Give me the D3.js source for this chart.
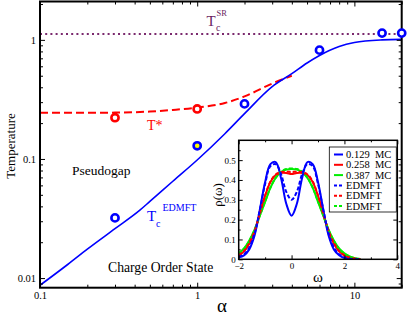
<!DOCTYPE html>
<html>
<head>
<meta charset="utf-8">
<script src="https://cdn.jsdelivr.net/npm/d3@7"></script>
<style>
body { margin: 0; background: #fff; }
</style>
</head>
<body>
<div id="chart"></div>
<script>
var width = 409;
var height = 315;

// main panel data
var tcAlpha = [0.1, 0.15, 0.2, 0.3, 0.43, 0.5, 0.7, 1, 1.5, 2, 3, 4, 5, 6, 8, 10, 15, 20];
var tcValue = [0.0087, 0.013, 0.0175, 0.026, 0.037, 0.044, 0.065, 0.098, 0.163, 0.24, 0.405, 0.52, 0.64, 0.74, 0.88, 0.95, 1.0, 1.01];
var tstarAlpha = [0.1, 0.3, 0.5, 0.7, 1, 1.5, 2, 3, 4];
var tstarValue = [0.244, 0.245, 0.25, 0.258, 0.27, 0.295, 0.335, 0.43, 0.5];
var tcSR = 1.12;
var redPtsAlpha = [0.3, 1];
var redPtsValue = [0.222, 0.263];
var bluePtsAlpha = [0.3, 1, 2, 6, 15, 20];
var bluePtsValue = [0.032, 0.129, 0.29, 0.82, 1.14, 1.14];
var xTickLabels = ["0.1", "1", "10"];
var yTickLabels = ["0.01", "0.1", "1"];

// inset data
var omega = [-2, -1.8, -1.6, -1.4, -1.2, -1, -0.8, -0.6, -0.4, -0.2, 0, 0.2, 0.4, 0.6, 0.8, 1, 1.2, 1.4, 1.6, 1.8, 2, 2.2, 2.4, 2.6];
var mc129 = [0.01, 0.02, 0.05, 0.12, 0.25, 0.39, 0.48, 0.49, 0.41, 0.28, 0.22, 0.28, 0.41, 0.49, 0.48, 0.39, 0.25, 0.12, 0.05, 0.02, 0.006, 0.002, 0, 0];
var ed129 = [0.012, 0.025, 0.06, 0.13, 0.25, 0.38, 0.47, 0.48, 0.43, 0.34, 0.3, 0.34, 0.43, 0.48, 0.47, 0.38, 0.25, 0.13, 0.06, 0.025, 0.01, 0.003, 0, 0];
var mc258 = [0.02, 0.04, 0.08, 0.14, 0.23, 0.32, 0.39, 0.425, 0.435, 0.435, 0.43, 0.435, 0.435, 0.425, 0.39, 0.32, 0.23, 0.14, 0.08, 0.04, 0.02, 0.008, 0.003, 0];
var ed258 = [0.02, 0.042, 0.082, 0.142, 0.232, 0.322, 0.392, 0.428, 0.44, 0.442, 0.44, 0.442, 0.44, 0.428, 0.392, 0.322, 0.232, 0.142, 0.082, 0.042, 0.02, 0.008, 0.003, 0];
var mc387 = [0.03, 0.055, 0.095, 0.15, 0.22, 0.29, 0.36, 0.41, 0.44, 0.452, 0.455, 0.452, 0.44, 0.41, 0.36, 0.29, 0.22, 0.15, 0.095, 0.055, 0.03, 0.015, 0.006, 0.002];
var ed387 = [0.028, 0.052, 0.092, 0.148, 0.22, 0.292, 0.362, 0.412, 0.442, 0.455, 0.458, 0.455, 0.442, 0.412, 0.362, 0.292, 0.22, 0.148, 0.092, 0.052, 0.028, 0.014, 0.005, 0.002];
var legendLabels = ["0.129  MC", "0.258  MC", "0.387  MC", "EDMFT", "EDMFT", "EDMFT"];
var insetXTicks = [-2, 0, 2, 4];
var insetYTicks = [0, 0.1, 0.2, 0.3, 0.4, 0.5];

var svg = d3.select("#chart")
            .append("svg")
            .attr("width", width)
            .attr("height", height);

var x = d3.scaleLog().domain([0.1, 20]).range([40, 401.7]);
var y = d3.scaleLog().domain([0.0083, 2.1]).range([287.7, 1.5]);

function minorTicks(scale) {
    return scale.ticks().filter(function(v) {
        var l = Math.log10(v);
        return Math.abs(l - Math.round(l)) > 1e-6;
    });
}
function majorTicks(scale) {
    return scale.ticks().filter(function(v) {
        var l = Math.log10(v);
        return Math.abs(l - Math.round(l)) < 1e-6;
    });
}

// Tc^SR dotted line
svg.append("line")
    .attr("x1", x(0.1)).attr("x2", x(20))
    .attr("y1", y(tcSR)).attr("y2", y(tcSR))
    .attr("stroke", "#7b2a6e")
    .attr("stroke-width", 2)
    .attr("stroke-dasharray", "2,3.2");

var line = d3.line()
    .x(function(d) { return x(d[0]); })
    .y(function(d) { return y(d[1]); })
    .curve(d3.curveMonotoneX);

// T* dashed
svg.append("path")
    .datum(d3.zip(tstarAlpha, tstarValue))
    .attr("fill", "none")
    .attr("stroke", "#ff0000")
    .attr("stroke-width", 2)
    .attr("stroke-dasharray", "8,4")
    .attr("d", line);

// Tc EDMFT solid
svg.append("path")
    .datum(d3.zip(tcAlpha, tcValue))
    .attr("fill", "none")
    .attr("stroke", "#0000ff")
    .attr("stroke-width", 1.6)
    .attr("d", line);

// main axes
var mainAx = svg.append("g");
function addAxis(g, axis, tf) {
    g.call(axis);
    g.select(".domain").remove();
    g.selectAll("line").attr("stroke", "#000").attr("stroke-width", 1);
    g.selectAll("text")
        .attr("font-size", tf || 10.5)
        .attr("fill", "#000");
}
addAxis(mainAx.append("g").attr("transform", "translate(0,287.7)"),
    d3.axisBottom(x).tickValues(majorTicks(x)).tickSize(-5).tickPadding(4)
      .tickFormat(function(d, i) { return xTickLabels[i]; }));
addAxis(mainAx.append("g").attr("transform", "translate(0,287.7)"),
    d3.axisBottom(x).tickValues(minorTicks(x)).tickSize(-3).tickFormat(""));
addAxis(mainAx.append("g").attr("transform", "translate(0,1.5)"),
    d3.axisTop(x).tickValues(majorTicks(x)).tickSize(-5).tickFormat(""));
addAxis(mainAx.append("g").attr("transform", "translate(0,1.5)"),
    d3.axisTop(x).tickValues(minorTicks(x)).tickSize(-3).tickFormat(""));
addAxis(mainAx.append("g").attr("transform", "translate(40,0)"),
    d3.axisLeft(y).tickValues(majorTicks(y)).tickSize(-5).tickPadding(4)
      .tickFormat(function(d, i) { return yTickLabels[i]; }));
addAxis(mainAx.append("g").attr("transform", "translate(40,0)"),
    d3.axisLeft(y).tickValues(minorTicks(y)).tickSize(-3).tickFormat(""));
addAxis(mainAx.append("g").attr("transform", "translate(401.7,0)"),
    d3.axisRight(y).tickValues(majorTicks(y)).tickSize(-5).tickFormat(""));
addAxis(mainAx.append("g").attr("transform", "translate(401.7,0)"),
    d3.axisRight(y).tickValues(minorTicks(y)).tickSize(-3).tickFormat(""));

svg.append("rect")
    .attr("x", 40).attr("y", 1.5)
    .attr("width", 361.7).attr("height", 286.2)
    .attr("fill", "none")
    .attr("stroke", "#000")
    .attr("stroke-width", 2);

// circles
svg.selectAll("circle.red")
    .data(d3.zip(redPtsAlpha, redPtsValue))
    .enter()
    .append("circle")
    .attr("cx", function(d) { return x(d[0]); })
    .attr("cy", function(d) { return y(d[1]); })
    .attr("r", 3.6)
    .attr("fill", "#fff")
    .attr("stroke", "#ff0000")
    .attr("stroke-width", 2.6);

svg.selectAll("circle.blue")
    .data(d3.zip(bluePtsAlpha, bluePtsValue))
    .enter()
    .append("circle")
    .attr("cx", function(d) { return x(d[0]); })
    .attr("cy", function(d) { return y(d[1]); })
    .attr("r", 3.6)
    .attr("fill", function(d, i) { return i == 1 ? "#ffff00" : "#fff"; })
    .attr("stroke", "#0000ff")
    .attr("stroke-width", 2.6);

// main labels
svg.append("text")
    .attr("transform", "translate(15,146) rotate(-90)")
    .attr("text-anchor", "middle")
    .attr("font-size", 13)
    .text("Temperature");
svg.append("text")
    .attr("x", 222).attr("y", 312)
    .attr("text-anchor", "middle")
    .attr("font-size", 19)
    .text("α");
svg.append("text").attr("x", 72).attr("y", 175).attr("font-size", 13.5).text("Pseudogap");
svg.append("text").attr("x", 108).attr("y", 272).attr("font-size", 13.7).text("Charge Order State");

svg.append("text").attr("x", 147).attr("y", 130).attr("font-size", 14)
    .attr("fill", "#ff0000").text("T*");

var tcLab = svg.append("g").attr("fill", "#0000ff");
tcLab.append("text").attr("x", 147).attr("y", 221).attr("font-size", 15).text("T");
tcLab.append("text").attr("x", 156).attr("y", 227).attr("font-size", 10).text("c");
tcLab.append("text").attr("x", 162.5).attr("y", 211).attr("font-size", 10).text("EDMFT");

var srLab = svg.append("g").attr("fill", "#6b1f5f");
srLab.append("text").attr("x", 206.5).attr("y", 25.5).attr("font-size", 15).text("T");
srLab.append("text").attr("x", 216).attr("y", 31).attr("font-size", 10).text("c");
srLab.append("text").attr("x", 216.5).attr("y", 15.5).attr("font-size", 8.5).text("SR");

// inset
var ix = d3.scaleLinear().domain([-2, 4]).range([238.7, 397.3]);
var iy = d3.scaleLinear().domain([0, 0.6]).range([259.3, 140.3]);
var inset = svg.append("g");

inset.append("rect")
    .attr("x", 238.7).attr("y", 140.3)
    .attr("width", 158.6).attr("height", 119)
    .attr("fill", "#fff");

inset.append("clipPath").attr("id", "iclip")
    .append("rect")
    .attr("x", 238.7).attr("y", 140.3)
    .attr("width", 158.6).attr("height", 119);

var iline = d3.line()
    .x(function(d) { return ix(d[0]); })
    .y(function(d) { return iy(d[1]); })
    .curve(d3.curveCatmullRom);

var curves = [
    { v: mc387, c: "#00ee00", dash: null },
    { v: mc258, c: "#ff0000", dash: null },
    { v: mc129, c: "#0000ff", dash: null },
    { v: ed387, c: "#00ee00", dash: "4,2" },
    { v: ed258, c: "#ff0000", dash: "4,2" },
    { v: ed129, c: "#0000ff", dash: "4,2" }
];
inset.append("g").attr("clip-path", "url(#iclip)")
    .selectAll("path")
    .data(curves)
    .enter()
    .append("path")
    .attr("fill", "none")
    .attr("stroke", function(d) { return d.c; })
    .attr("stroke-width", 2)
    .attr("stroke-dasharray", function(d) { return d.dash; })
    .attr("d", function(d) { return iline(d3.zip(omega, d.v)); });

addAxis(inset.append("g").attr("transform", "translate(0,259.3)"),
    d3.axisBottom(ix).tickValues(insetXTicks).tickSize(-4).tickPadding(3)
      .tickFormat(d3.format("d")), 9);
addAxis(inset.append("g").attr("transform", "translate(0,259.3)"),
    d3.axisBottom(ix).tickValues([-1, 1, 3]).tickSize(-2).tickFormat(""));
addAxis(inset.append("g").attr("transform", "translate(0,140.3)"),
    d3.axisTop(ix).tickValues(insetXTicks).tickSize(-4).tickFormat(""));
addAxis(inset.append("g").attr("transform", "translate(0,140.3)"),
    d3.axisTop(ix).tickValues([-1, 1, 3]).tickSize(-2).tickFormat(""));
addAxis(inset.append("g").attr("transform", "translate(238.7,0)"),
    d3.axisLeft(iy).tickValues(insetYTicks).tickSize(-4).tickPadding(3)
      .tickFormat(function(d) { return d == 0 ? "0" : d3.format(".1f")(d); }), 9);
addAxis(inset.append("g").attr("transform", "translate(238.7,0)"),
    d3.axisLeft(iy).tickValues([0.05, 0.15, 0.25, 0.35, 0.45, 0.55]).tickSize(-2).tickFormat(""));
addAxis(inset.append("g").attr("transform", "translate(397.3,0)"),
    d3.axisRight(iy).tickValues(insetYTicks).tickSize(-4).tickFormat(""));

inset.append("rect")
    .attr("x", 238.7).attr("y", 140.3)
    .attr("width", 158.6).attr("height", 119)
    .attr("fill", "none")
    .attr("stroke", "#000")
    .attr("stroke-width", 1.5);

inset.append("text")
    .attr("transform", "translate(222,195) rotate(-90)")
    .attr("text-anchor", "middle")
    .attr("font-size", 13)
    .text("ρ(ω)");
inset.append("text")
    .attr("x", 318).attr("y", 282)
    .attr("text-anchor", "middle")
    .attr("font-size", 15)
    .text("ω");

// legend
var leg = inset.append("g");
leg.append("rect")
    .attr("x", 329.3).attr("y", 147)
    .attr("width", 67).attr("height", 65)
    .attr("fill", "#fff")
    .attr("stroke", "#000")
    .attr("stroke-width", 0.8);
var legColors = ["#0000ff", "#ff0000", "#00ee00", "#0000ff", "#ff0000", "#00ee00"];
legendLabels.forEach(function(lab, i) {
    var yy = 154.5 + i * 10.3;
    leg.append("line")
        .attr("x1", 334).attr("x2", 343)
        .attr("y1", yy).attr("y2", yy)
        .attr("stroke", legColors[i])
        .attr("stroke-width", 2)
        .attr("stroke-dasharray", i < 3 ? null : "3,2");
    leg.append("text")
        .attr("x", 346).attr("y", yy + 3.5)
        .attr("font-size", 10.5)
        .style("white-space", "pre")
        .text(lab);
});

// serif everywhere
svg.selectAll("text").style("font-family", "'Liberation Serif'");
</script>
</body>
</html>
